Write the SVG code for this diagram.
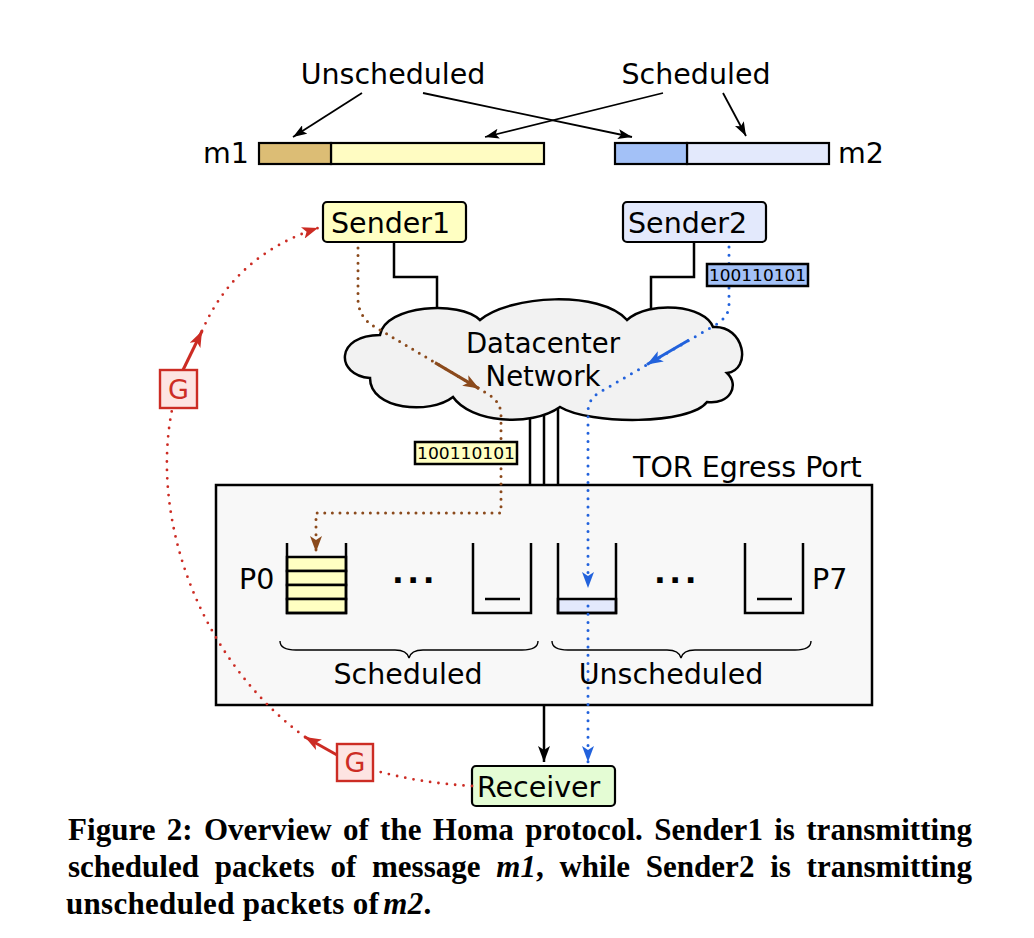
<svg xmlns="http://www.w3.org/2000/svg" width="1034" height="938" viewBox="0 0 1034 938">
<style>
.t{font-family:"DejaVu Sans","Noto Sans",sans-serif;font-size:28.5px;fill:#000}
.cl{font-family:"DejaVu Sans","Noto Sans",sans-serif;font-size:27.5px;fill:#000}
.pk{font-family:"DejaVu Sans",sans-serif;font-size:15.5px;fill:#000}
.cap{font-family:"Liberation Serif","Times New Roman",serif;font-size:31px;font-weight:bold;fill:#000}
.box{stroke:#000;stroke-width:2.2}
.wire{fill:none;stroke:#000;stroke-width:2.5}
.thin{fill:none;stroke:#000;stroke-width:1.8}
.brace{fill:none;stroke:#000;stroke-width:1.4}
.dotb{fill:none;stroke:#8b4a1c;stroke-width:3;stroke-linecap:round;stroke-dasharray:0 7.6}
.dotu{fill:none;stroke:#2262dc;stroke-width:3;stroke-linecap:round;stroke-dasharray:0 8.2}
.dotr{fill:none;stroke:#cc2c24;stroke-width:2.8;stroke-linecap:round;stroke-dasharray:0 8.4}
.gbox{fill:#fde4e2;stroke:#cc2c24;stroke-width:2.4}
.gt{font-family:"DejaVu Sans",sans-serif;font-size:27px;fill:#cc2c24}
</style>
<defs>
<marker id="ahs" viewBox="0 0 14 10" refX="14" refY="5" markerWidth="14" markerHeight="10" markerUnits="userSpaceOnUse" orient="auto"><path d="M0,0 L14,5 L0,10 L3,5 Z" fill="#000"/></marker>
<marker id="ahk" viewBox="0 0 16 12" refX="16" refY="6" markerWidth="16" markerHeight="12" markerUnits="userSpaceOnUse" orient="auto"><path d="M0,0 L16,6 L0,12 L4,6 Z" fill="#000"/></marker>
<marker id="ahb" viewBox="0 0 16 12" refX="16" refY="6" markerWidth="16" markerHeight="12" markerUnits="userSpaceOnUse" orient="auto"><path d="M0,0 L16,6 L0,12 L4,6 Z" fill="#8b4a1c"/></marker>
<marker id="ahu" viewBox="0 0 16 12" refX="16" refY="6" markerWidth="16" markerHeight="12" markerUnits="userSpaceOnUse" orient="auto"><path d="M0,0 L16,6 L0,12 L4,6 Z" fill="#2262dc"/></marker>
<marker id="ahr" viewBox="0 0 16 12" refX="16" refY="6" markerWidth="16" markerHeight="12" markerUnits="userSpaceOnUse" orient="auto"><path d="M0,0 L16,6 L0,12 L4,6 Z" fill="#cc2c24"/></marker>
</defs>
<rect width="1034" height="938" fill="#fff"/>

<g id="labels-top">
<text class="t" x="393" y="84" text-anchor="middle">Unscheduled</text>
<text class="t" x="696" y="84" text-anchor="middle">Scheduled</text>
</g>

<g id="node-m1">
<text class="t" x="249" y="163" text-anchor="end">m1</text>
<rect x="331" y="143" width="213" height="21" fill="#fffcc2" class="box"/>
<rect x="259" y="143" width="72" height="21" fill="#dcbd75" class="box"/>
</g>
<g id="node-m2">
<rect x="687" y="143" width="142" height="21" fill="#e3e9fc" class="box"/>
<rect x="615" y="143" width="72" height="21" fill="#a3c1f7" class="box"/>
<text class="t" x="838" y="163">m2</text>
</g>

<g id="node-sender1">
<rect x="323" y="202" width="143" height="40" rx="4" fill="#ffffc2" class="box"/>
<text class="t" x="331" y="233">Sender1</text>
</g>
<g id="node-sender2">
<rect x="623" y="202" width="143" height="40" rx="4" fill="#e3e9fc" class="box"/>
<text class="t" x="628" y="233">Sender2</text>
</g>

<g id="node-cloud">
<path d="M380,335 C385,305 460,300 480,320 C510,295 600,290 627,320 C650,300 705,305 713,327 C745,325 752,370 727,373 C740,385 730,405 707,402 C690,425 590,425 560,407 C530,428 470,422 453,397 C430,415 370,410 370,378 C335,375 335,335 380,335 Z" fill="#f2f2f2" stroke="#000" stroke-width="2.5"/>
<text class="cl" x="543" y="353" text-anchor="middle">Datacenter</text>
<text class="cl" x="543" y="386" text-anchor="middle">Network</text>
</g>

<g id="node-tor">
<rect x="216" y="485" width="656" height="220" fill="#f8f8f8" stroke="#000" stroke-width="2.5"/>
<text class="t" x="633" y="477">TOR Egress Port</text>
<text class="t" x="239" y="589">P0</text>
<text class="t" x="812" y="589">P7</text>
<g fill="#ffffc2" stroke="#000" stroke-width="2.5">
<rect x="287" y="557" width="59" height="14"/>
<rect x="287" y="571" width="59" height="14"/>
<rect x="287" y="585" width="59" height="14"/>
<rect x="287" y="599" width="59" height="14"/>
</g>
<rect x="558" y="599" width="58" height="14" fill="#e3e9fc" stroke="#000" stroke-width="2.5"/>
<path class="wire" d="M287,543 V613 H346 V543 M473,543 V613 H531 V543 M558,543 V613 H616 V543 M745,543 V613 H803 V543 M485,599 H520 M757,599 H792"/>
<text x="415" y="583" text-anchor="middle" font-family="DejaVu Sans,sans-serif" font-size="31" font-weight="bold" letter-spacing="3.5">...</text>
<text x="677" y="583" text-anchor="middle" font-family="DejaVu Sans,sans-serif" font-size="31" font-weight="bold" letter-spacing="3.5">...</text>
<path class="brace" d="M280,641 Q280,650 296,650 L395,650 Q407,650 409,658 Q411,650 423,650 L522,650 Q538,650 538,641"/>
<path class="brace" d="M552,641 Q552,650 568,650 L667,650 Q679,650 681,658 Q683,650 695,650 L795,650 Q811,650 811,641"/>
<text class="t" x="408" y="684" text-anchor="middle">Scheduled</text>
<text class="t" x="671" y="684" text-anchor="middle">Unscheduled</text>
</g>

<g id="node-receiver">
<rect x="472" y="766" width="143" height="40" rx="4" fill="#e4fcd4" class="box"/>
<text class="t" x="477" y="797">Receiver</text>
</g>

<g id="connectors">
<line class="thin" x1="362" y1="93" x2="293" y2="137" marker-end="url(#ahs)"/>
<line class="thin" x1="423" y1="93" x2="632" y2="137" marker-end="url(#ahs)"/>
<line class="thin" x1="663" y1="93" x2="485" y2="137" marker-end="url(#ahs)"/>
<line class="thin" x1="723" y1="93" x2="746" y2="136" marker-end="url(#ahs)"/>
<path class="wire" d="M394,242 V277 H437 V309"/>
<path class="wire" d="M694,242 V277 H651 V310"/>
<path class="wire" d="M530,419 V485 M544,414.5 V485 M558,408.5 V485"/>
<line x1="544" y1="706" x2="544" y2="762" stroke="#000" stroke-width="2.5" marker-end="url(#ahk)"/>
<path class="dotb" d="M358,248 L358,300 Q359,318 375,327 L488,394 Q501,402 501,415 L501,513 L316,513 L316,552" marker-end="url(#ahb)"/>
<line x1="435" y1="362.6" x2="479" y2="388.6" stroke="#8b4a1c" stroke-width="3" marker-end="url(#ahb)"/>
<path class="dotu" d="M729,247 L729,305 Q729,318 712,327 L600,392 Q588,399 588,412 L588,588" marker-end="url(#ahu)"/>
<path class="dotu" d="M588,606 L588,762" marker-end="url(#ahu)"/>
<line x1="689" y1="340" x2="647" y2="364.5" stroke="#2262dc" stroke-width="3" marker-end="url(#ahu)"/>
<path class="dotr" d="M472,786 Q420,783 377,771"/>
<line x1="337" y1="755" x2="305" y2="737" stroke="#cc2c24" stroke-width="3" marker-end="url(#ahr)"/>
<path class="dotr" d="M305,737 C200,660 150,520 172,410"/>
<line x1="183" y1="370" x2="202" y2="331" stroke="#cc2c24" stroke-width="3" marker-end="url(#ahr)"/>
<path class="dotr" d="M202,331 Q235,255 318,228" marker-end="url(#ahr)"/>
</g>

<g id="node-g-top">
<rect x="160" y="370" width="37" height="38" class="gbox"/>
<text class="gt" x="178.5" y="399" text-anchor="middle">G</text>
</g>
<g id="node-g-bottom">
<rect x="337" y="744" width="36" height="37" class="gbox"/>
<text class="gt" x="355" y="772" text-anchor="middle">G</text>
</g>

<g id="node-packet-blue">
<rect x="707" y="264" width="101" height="22" fill="#a3c1f7" stroke="#000" stroke-width="2.5"/>
<text class="pk" x="757.5" y="281" text-anchor="middle" textLength="97" lengthAdjust="spacingAndGlyphs">100110101</text>
</g>
<g id="node-packet-yellow">
<rect x="415" y="442" width="102" height="22" fill="#ffffc2" stroke="#000" stroke-width="2.5"/>
<text class="pk" x="466" y="459" text-anchor="middle" textLength="98" lengthAdjust="spacingAndGlyphs">100110101</text>
</g>

<g id="caption">
<text class="cap" x="68" y="840" word-spacing="3.5" textLength="904" lengthAdjust="spacing">Figure 2: Overview of the Homa protocol. Sender1 is transmitting</text>
<text class="cap" x="68" y="877" word-spacing="8" textLength="904" lengthAdjust="spacing">scheduled packets of message <tspan font-style="italic">m1</tspan>, while Sender2 is transmitting</text>
<text class="cap" x="66" y="914" letter-spacing="0.3">unscheduled packets of<tspan font-style="italic" dx="4">m2</tspan>.</text>
</g>
</svg>
